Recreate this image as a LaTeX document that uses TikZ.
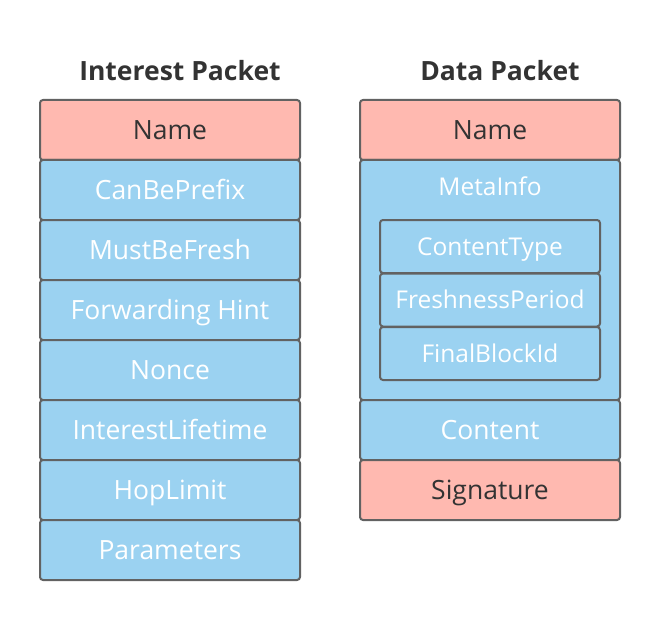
\documentclass[tikz,border=0pt]{standalone}
\usepackage{fontspec}
\setmainfont{Open Sans}
\definecolor{pinkfill}{RGB}{255,185,176}
\definecolor{bluefill}{RGB}{155,210,241}
\definecolor{edge}{RGB}{98,98,98}
\definecolor{darktext}{RGB}{51,51,51}
\tikzset{
  txt/.style={inner sep=0pt, text height=19pt, text depth=0pt, font=\fontsize{26.5}{30}\selectfont},
  smalltxt/.style={inner sep=0pt, text height=17.5pt, text depth=0pt, font=\fontsize{24.5}{28}\selectfont},
  field/.style={txt, draw=edge, line width=2pt, rounded corners=3pt, minimum width=260pt, minimum height=60pt},
  keyfield/.style={field, fill=pinkfill, text=darktext},
  plainfield/.style={field, fill=bluefill, text=white},
  subfield/.style={plainfield, smalltxt, minimum width=220pt, minimum height=53pt},
  title/.style={txt, text=darktext, font=\fontsize{26.5}{30}\selectfont\bfseries}
}
\begin{document}
\begin{tikzpicture}[x=1pt,y=-1pt]
\useasboundingbox (0,0) rectangle (660,620);
\node[title] (t1) at (180,71.5) {Interest Packet};
\node[title] (t2) at (500,71.5) {Data Packet};
% Interest packet
\node[keyfield] (iname) at (170,130) {Name};
\node[plainfield] (icbp) at (170,190) {CanBePrefix};
\node[plainfield] (imbf) at (170,250) {MustBeFresh};
\node[plainfield] (ifh) at (170,310) {Forwarding Hint};
\node[plainfield] (inon) at (170,370) {Nonce};
\node[plainfield] (ilt) at (170,430) {InterestLifetime};
\node[plainfield] (ihl) at (170,490) {HopLimit};
\node[plainfield] (ipar) at (170,550) {Parameters};
% Data packet
\node[keyfield] (dname) at (490,130) {Name};
\node[plainfield, minimum height=240pt] (dmeta) at (490,280) {};
\node[smalltxt, text=white] (dmetal) at (490,186.5) {MetaInfo};
\node[subfield] (dct) at (490,246.5) {ContentType};
\node[subfield] (dfp) at (490,300) {FreshnessPeriod};
\node[subfield] (dfb) at (490,353.5) {FinalBlockId};
\node[plainfield] (dcont) at (490,430) {Content};
\node[keyfield] (dsig) at (490,490) {Signature};
\end{tikzpicture}
\end{document}
